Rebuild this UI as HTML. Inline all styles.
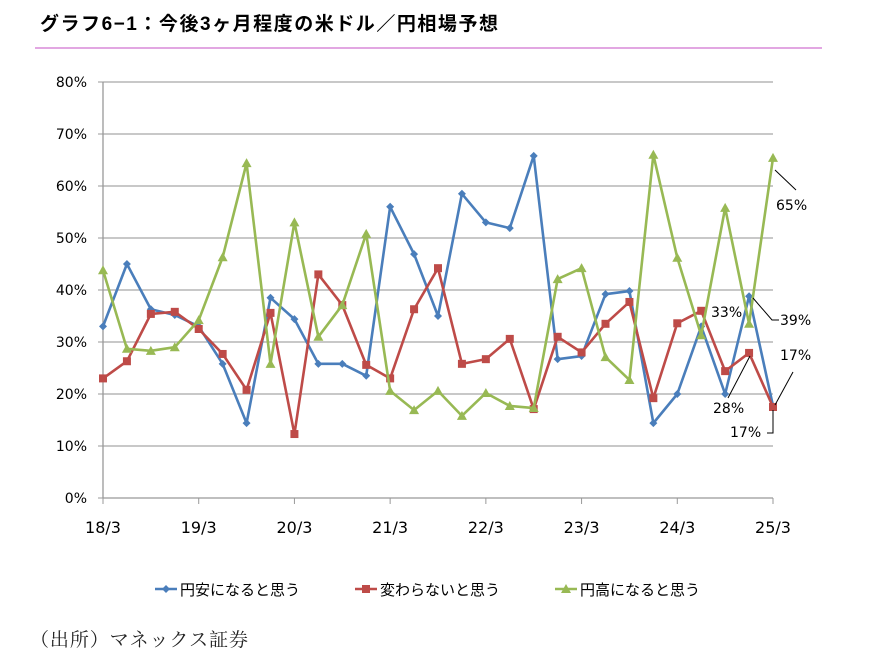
<!DOCTYPE html>
<html><head><meta charset="utf-8">
<style>
body{margin:0;background:#fff;width:874px;height:660px;overflow:hidden;font-family:"Liberation Sans","Noto Sans CJK JP",sans-serif;}
</style></head><body>
<svg id="chart" width="874" height="660" xmlns="http://www.w3.org/2000/svg">
<text x="40" y="30" font-size="19" font-weight="bold" fill="#000" textLength="458" font-family="Liberation Sans, Noto Sans CJK JP, sans-serif">グラフ6−1：今後3ヶ月程度の米ドル／円相場予想</text>
<line x1="35" y1="48" x2="822" y2="48" stroke="#d98ad9" stroke-width="1.5"/>
<g id="grid"></g><g id="axes"></g><g id="series"></g>
<g id="labels" font-size="14" fill="#000" font-family="DejaVu Sans, sans-serif">
<line x1="775" y1="170" x2="796" y2="190" stroke="#000"/>
<text x="776" y="210">65%</text>
<text x="711" y="317">33%</text>
<polyline points="753,298 772,320 779,320" fill="none" stroke="#000"/>
<text x="780" y="325">39%</text>
<line x1="750" y1="356" x2="728" y2="398" stroke="#000"/>
<text x="713" y="413">28%</text>
<line x1="775" y1="405" x2="793" y2="372" stroke="#000"/>
<text x="780" y="360">17%</text>
<polyline points="773,410 773,433 767,433" fill="none" stroke="#000"/>
<text x="730" y="437">17%</text>
</g>
<g id="legend" font-size="15" font-family="Liberation Sans, Noto Sans CJK JP, sans-serif"></g>
<text x="30" y="646" font-size="19" fill="#222" textLength="218" font-family="Liberation Serif, Noto Serif CJK SC, serif">（出所）マネックス証券</text>
</svg>
<script>
const categories = ["18/3","18/6","18/9","18/12","19/3","19/6","19/9","19/12","20/3","20/6","20/9","20/12","21/3","21/6","21/9","21/12","22/3","22/6","22/9","22/12","23/3","23/6","23/9","23/12","24/3","24/6","24/9","24/12","25/3"];
const yenWeak = [33,45,36.3,35.2,33,25.8,14.4,38.5,34.4,25.8,25.8,23.5,56,46.9,35,58.5,53,51.9,65.8,26.7,27.3,39.2,39.8,14.4,20,33,20,38.8,17.7];
const noChange = [23,26.3,35.4,35.8,32.5,27.7,20.8,35.6,12.3,43,37.1,25.6,23,36.3,44.2,25.8,26.7,30.6,17.1,31,28,33.5,37.7,19.2,33.6,36,24.4,27.9,17.5];
const yenStrong = [43.8,28.7,28.3,29,34.2,46.3,64.4,25.8,53,31,37.1,50.8,20.6,16.9,20.6,15.8,20.2,17.7,17.3,42.1,44.2,27.1,22.7,66,46.2,31.3,55.8,33.5,65.4];
const yTicks = [0,10,20,30,40,50,60,70,80];
const xTickLabels = ["18/3","19/3","20/3","21/3","22/3","23/3","24/3","25/3"];
const seriesNames = ["円安になると思う","変わらないと思う","円高になると思う"];

const NS="http://www.w3.org/2000/svg";
const X0=103,X1=773,Y0=498,Y80=82;
const xs=i=>X0+(X1-X0)*i/(categories.length-1);
const ys=v=>Y0-(Y0-Y80)*v/80;
function mk(tag,attrs,parent){const e=document.createElementNS(NS,tag);for(const k in attrs)e.setAttribute(k,attrs[k]);parent.appendChild(e);return e;}
const grid=document.getElementById('grid'),axes=document.getElementById('axes'),ser=document.getElementById('series'),leg=document.getElementById('legend');
yTicks.forEach(t=>{
 const l=mk('line',{x1:X0,x2:X1,y1:ys(t),y2:ys(t),stroke:t===0?'#999':'#a6a6a6','stroke-width':1.3},grid);
 
 
 const tk=mk('line',{x1:X0-5,x2:X0,y1:ys(t),y2:ys(t),stroke:'#999'},axes);
 
 
 const tx=mk('text',{x:X0-16,y:ys(t)+5,'text-anchor':'end','font-size':14,'font-family':'DejaVu Sans, sans-serif'},axes);
 tx.textContent=t+'%';
 
 
});
const ya=mk('line',{x1:X0,x2:X0,y1:Y80,y2:Y0,stroke:'#999','stroke-width':1.3},axes);


xTickLabels.forEach((lab,j)=>{
 const i=categories.indexOf(lab);const x=xs(i);
 const tk=mk('line',{x1:x,x2:x,y1:Y0,y2:Y0+6,stroke:'#999'},axes);
 
 
 const tx=mk('text',{x:x,y:Y0+35,'text-anchor':'middle','font-size':16,'font-family':'DejaVu Sans, sans-serif'},axes);
 tx.textContent=lab;
 
 
});
const colors=['#4a7ebb','#be4b48','#98b954'];
const data=[yenWeak,noChange,yenStrong];
function marker(k,x,y,parent,name){
 let m;
 if(k===0) m=mk('polygon',{points:`${x},${y-4} ${x+4},${y} ${x},${y+4} ${x-4},${y}`,fill:colors[k]},parent);
 else if(k===1) m=mk('rect',{x:x-4,y:y-4,width:8,height:8,fill:colors[k]},parent);
 else m=mk('polygon',{points:`${x},${y-5} ${x+5},${y+4} ${x-5},${y+4}`,fill:colors[k]},parent);
 
 
}
data.forEach((arr,k)=>{
 const g=mk('g',{},ser);
 
 
 const pl=mk('polyline',{points:arr.map((v,i)=>xs(i)+','+ys(v)).join(' '),fill:'none',stroke:colors[k],'stroke-width':2.6,'stroke-linejoin':'round'},g);
 
 
 arr.forEach((v,i)=>marker(k,xs(i),ys(v),g,'point-'+k+'-'+i));
});
const lx=[155,355,555];
seriesNames.forEach((n,k)=>{
 const g=mk('g',{},leg);
 
 
 const l=mk('line',{x1:lx[k],x2:lx[k]+22,y1:589,y2:589,stroke:colors[k],'stroke-width':2.6},g);
 
 
 marker(k,lx[k]+11,589,g,'legend-marker-'+k);
 const t=mk('text',{x:lx[k]+25,y:595},g);
 t.textContent=n;
 
 
});
</script>
</body></html>
